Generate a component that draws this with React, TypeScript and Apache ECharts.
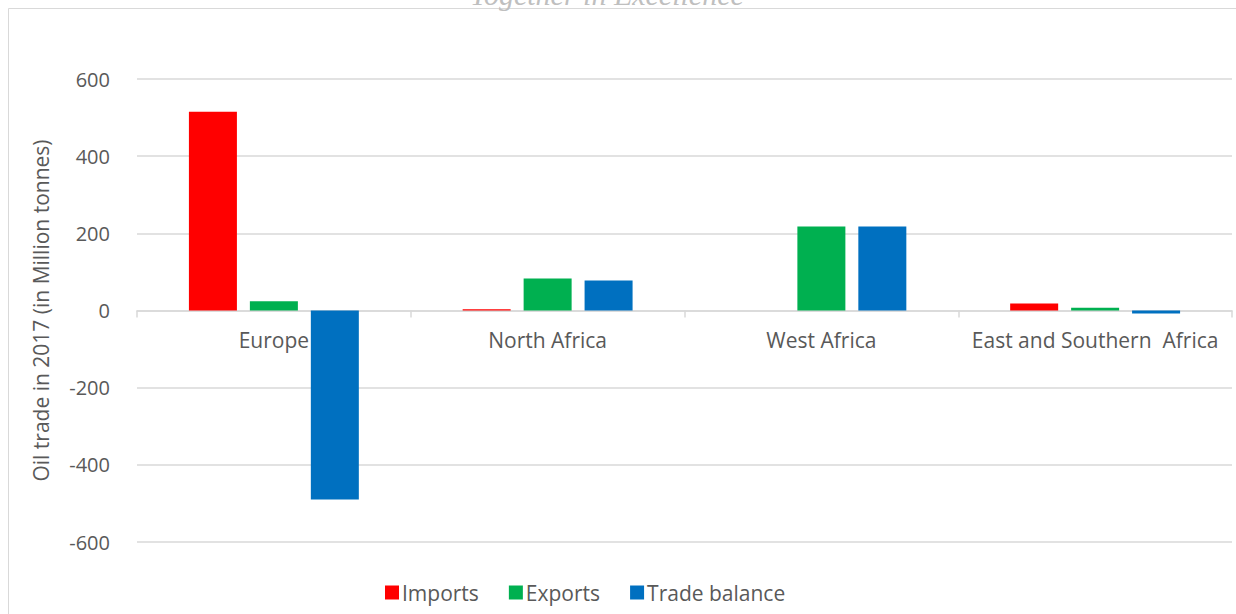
import React, { useEffect, useRef } from "react";
import * as echarts from "echarts";

const categories = ["Europe", "North Africa", "West Africa", "East and Southern  Africa"];
const imports = [515, 3, 0, 18];
const exports = [24, 83, 218, 7];
const tradeBalance = [-490, 78, 218, -8];
const seriesNames = ["Imports", "Exports", "Trade balance"];
const colors = ["#FF0000", "#00B050", "#0070C0"];
const yAxisName = "Oil trade in 2017 (in Million tonnes)";
const headerText = "Together in Excellence";

const FONT = "'Open Sans', 'Liberation Sans', sans-serif";
const TXT = "#595959";
const FS = 20;

export default function App() {
  const ref = useRef<HTMLDivElement>(null);
  useEffect(() => {
    if (!ref.current) return;
    const chart = echarts.init(ref.current, null, { renderer: "svg" });
    const data = [imports, exports, tradeBalance];
    chart.setOption({
      animation: false,
      backgroundColor: "#ffffff",
      textStyle: { fontFamily: FONT },
      graphic: [
        {
          type: "rect",
          shape: { x: 8.5, y: 8.5, width: 1300, height: 700 },
          style: { fill: "none", stroke: "#d9d9d9", lineWidth: 1 },
          silent: true,
        },
        {
          type: "text",
          left: 470,
          top: -21,
          style: {
            text: headerText,
            font: "italic 30px 'Liberation Serif', serif",
            fill: "#bfbfbf",
          },
          silent: true,
        },
      ],
      legend: {
        bottom: 6,
        left: 380,
        itemWidth: 14,
        itemHeight: 14,
        itemGap: 30,
        icon: "rect",
        textStyle: { color: TXT, fontSize: 21, fontFamily: FONT, padding: [0, 0, 0, -2] },
        data: seriesNames,
      },
      grid: { left: 137, right: 4, top: 79, bottom: 72, containLabel: false },
      xAxis: {
        type: "category",
        data: categories,
        offset: -231.5,
        axisLine: { onZero: false, lineStyle: { color: "#d9d9d9", width: 1.5 } },
        axisTick: { show: true, length: 7, lineStyle: { color: "#d9d9d9", width: 1.5 } },
        axisLabel: { color: TXT, fontSize: 21, fontFamily: FONT, margin: 19, interval: 0 },
        splitLine: { show: false },
      },
      yAxis: {
        type: "value",
        min: -600,
        max: 600,
        interval: 200,
        name: yAxisName,
        nameLocation: "middle",
        nameGap: 86,
        nameTextStyle: { color: TXT, fontSize: 21, fontFamily: FONT },
        axisLine: { show: false },
        axisTick: { show: false },
        axisLabel: { color: TXT, fontSize: FS, fontFamily: FONT, margin: 27 },
        splitLine: { lineStyle: { color: "#d9d9d9", width: 1.5 } },
      },
      series: seriesNames.map((n, i) => ({
        name: n,
        type: "bar",
        data: data[i],
        barWidth: 48,
        barGap: "27%",
        itemStyle: { color: colors[i] },
      })),
    });
    return () => chart.dispose();
  }, []);
  return (
    <div
      ref={ref}
      style={{ position: "absolute", left: 0, top: 0, width: 1236, height: 614 }}
    />
  );
}
